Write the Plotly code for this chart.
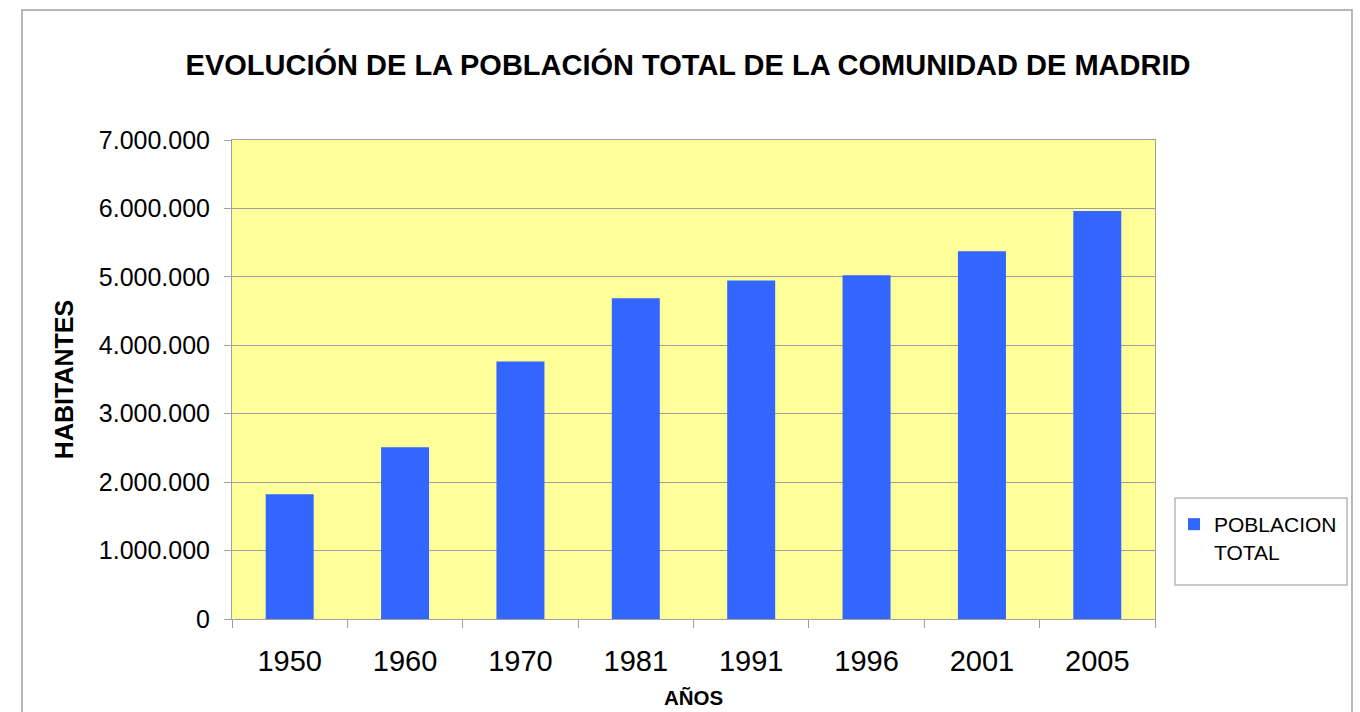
import plotly.graph_objects as go

years = ["1950", "1960", "1970", "1981", "1991", "1996", "2001", "2005"]
population = [1823410, 2510217, 3761348, 4686895, 4947555, 5022289, 5372433, 5964143]
series_name = "POBLACION<br>TOTAL"
title_text = "EVOLUCIÓN DE LA POBLACIÓN TOTAL DE LA COMUNIDAD DE MADRID"
x_title = "AÑOS"
y_title = "HABITANTES"

FONT = "Liberation Sans, Arial, sans-serif"
GRAY = "#A0A0A0"

fig = go.Figure()
fig.add_trace(go.Bar(
    x=years, y=population, name=series_name,
    marker=dict(color="#3366FF", line=dict(width=0)),
    showlegend=True,
))

W, H = 1360, 712
L, R, T, B = 232, 205, 140, 93
pw, ph = W - L - R, H - T - B

def px(xpix):
    return (xpix - L) / pw

def py(ypix):
    return (H - B - ypix) / ph

fig.update_layout(
    width=W, height=H,
    margin=dict(l=L, r=R, t=T, b=B, autoexpand=False),
    paper_bgcolor="white",
    plot_bgcolor="#FFFF99",
    separators=",.",
    font=dict(family=FONT, color="black"),
    bargap=0.584,
    title=dict(
        text="<b>" + title_text + "</b>",
        xref="container", yref="container",
        x=688 / W, xanchor="center",
        y=1 - 65 / H, yanchor="middle",
        font=dict(size=29, family=FONT, color="black"),
    ),
    xaxis=dict(
        type="category",
        showline=True, linecolor=GRAY, linewidth=1, mirror=True,
        ticks="outside", tickson="boundaries", ticklen=8, tickcolor=GRAY,
        showgrid=False,
        tickfont=dict(size=29, family=FONT, color="black"),
        ticklabelstandoff=16,
        title=dict(text="<b>" + x_title + "</b>", font=dict(size=20.5, family=FONT, color="black"), standoff=14),
    ),
    yaxis=dict(
        range=[0, 7000000], dtick=1000000, tick0=0,
        tickformat=",d",
        showline=True, linecolor=GRAY, linewidth=1, mirror=True,
        ticks="outside", ticklen=7, tickcolor=GRAY,
        showgrid=True, gridcolor=GRAY, gridwidth=1,
        zeroline=False,
        tickfont=dict(size=25, family=FONT, color="black"),
        ticklabelstandoff=9,
        title=dict(text="<b>" + y_title + "</b>", font=dict(size=25, family=FONT, color="black"), standoff=18),
    ),
    legend=dict(
        x=px(1174), xanchor="left",
        y=py(504), yanchor="top",
        bgcolor="rgba(0,0,0,0)", borderwidth=0,
        font=dict(size=21, family=FONT, color="black"),
        valign="top",
        itemwidth=30,
    ),
    shapes=[
        dict(type="rect", xref="paper", yref="paper",
             x0=px(22), x1=px(1352), y0=py(760), y1=py(10),
             line=dict(color=GRAY, width=1.5), fillcolor="rgba(0,0,0,0)", layer="below"),
        dict(type="rect", xref="paper", yref="paper",
             x0=px(1175), x1=px(1347), y0=py(585), y1=py(498),
             line=dict(color="#B8B8B8", width=1.5), fillcolor="white", layer="below"),
    ],
)

fig.write_html(
    "out.html",
    config={"displayModeBar": False},
    post_script="document.body.style.margin='0';document.body.style.overflow='hidden';",
)
